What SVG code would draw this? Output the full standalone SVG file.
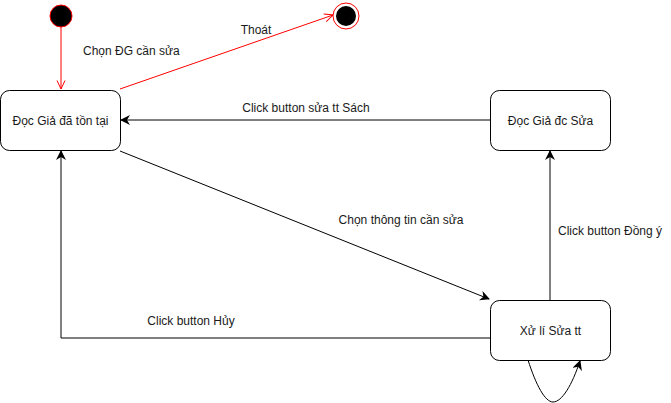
<svg xmlns="http://www.w3.org/2000/svg" width="671" height="403" viewBox="0 0 671 403">
<style>
.node{fill:#fff;stroke:#000;stroke-width:1}
.lbl{font-family:"Liberation Sans",Arial,sans-serif;font-size:12px;fill:#1a1a1a}
.ctr{text-anchor:middle;dominant-baseline:central}
.edge{fill:none;stroke:#000;stroke-width:1}
.red{fill:none;stroke:#ff0000;stroke-width:1}
</style>
<defs>
<marker id="blk" viewBox="0 0 10 10" refX="9" refY="5" markerWidth="10" markerHeight="10" markerUnits="userSpaceOnUse" orient="auto">
<path d="M0,0 L10,5 L0,10 L3,5 Z" fill="#000"/>
</marker>
<marker id="opn" viewBox="0 0 10 10" refX="9.5" refY="5" markerWidth="10" markerHeight="10" markerUnits="userSpaceOnUse" orient="auto">
<path d="M1,1 L9.5,5 L1,9" fill="none" stroke="#ff0000" stroke-width="1"/>
</marker>
</defs>
<rect width="671" height="403" fill="#fff"/>
<g id="connectors">
<path class="red" d="M61,27 L61,89" marker-end="url(#opn)"/>
<path class="red" d="M120,89 L333,15" marker-end="url(#opn)"/>
<path class="edge" d="M490,120 L121,120" marker-end="url(#blk)"/>
<path class="edge" d="M120,151 L489,299" marker-end="url(#blk)"/>
<path class="edge" d="M550,300 L550,151" marker-end="url(#blk)"/>
<path class="edge" d="M490,338 L61,338 L61,151" marker-end="url(#blk)"/>
<path class="edge" d="M528,360 C536,385 545,402 553,402 C562,402 572,385 580,361" marker-end="url(#blk)"/>
<text class="lbl" x="83" y="55">Chọn ĐG cần sửa</text>
<text class="lbl ctr" x="256" y="30">Thoát</text>
<text class="lbl ctr" x="306" y="108">Click button sửa tt Sách</text>
<text class="lbl ctr" x="401" y="220">Chọn thông tin cần sửa</text>
<text class="lbl" x="558" y="235">Click button Đồng ý</text>
<text class="lbl ctr" x="191" y="321">Click button Hủy</text>
</g>
<g id="initial">
<circle cx="61" cy="16" r="11" fill="#000" stroke="#ff0000" stroke-width="1"/>
</g>
<g id="final">
<circle cx="346" cy="16" r="13" fill="#fff" stroke="#ff0000" stroke-width="1"/>
<circle cx="346" cy="16" r="10" fill="#000"/>
</g>
<g id="node-ton-tai">
<rect class="node" x="0.5" y="90.5" width="120" height="60" rx="9"/>
<text class="lbl ctr" x="60.5" y="120.5">Đọc Giả đã tồn tại</text>
</g>
<g id="node-dc-sua">
<rect class="node" x="490.5" y="90.5" width="120" height="60" rx="9"/>
<text class="lbl ctr" x="550.5" y="120.5">Đọc Giả đc Sửa</text>
</g>
<g id="node-xu-li">
<rect class="node" x="490.5" y="300.5" width="120" height="60" rx="9"/>
<text class="lbl ctr" x="550.5" y="330.5">Xử lí Sửa tt</text>
</g>
</svg>
